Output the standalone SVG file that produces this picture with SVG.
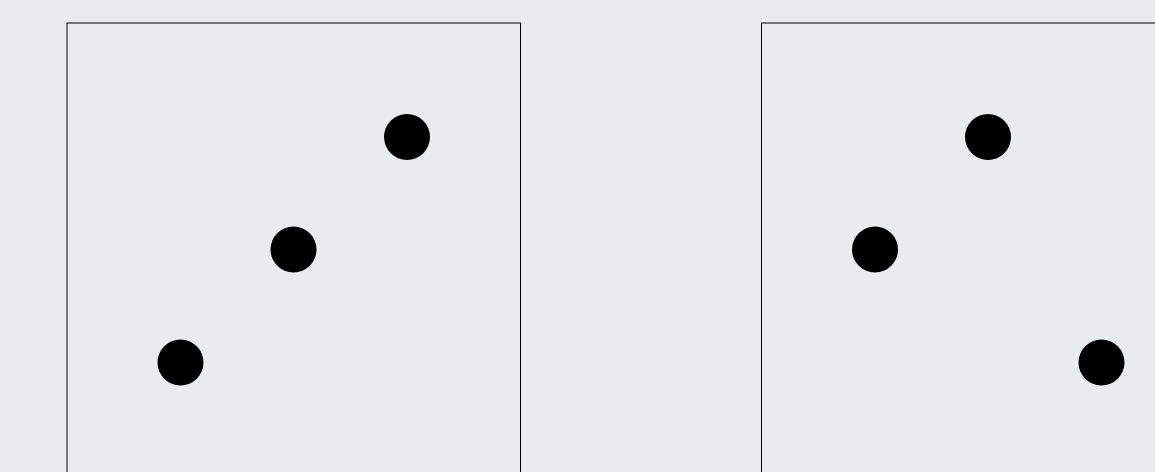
<svg xmlns="http://www.w3.org/2000/svg" width="1155" height="472" viewBox="0 0 1155 472">
<style>
.frame{fill:none;stroke:#000;stroke-width:1}
.dot{fill:#000}
</style>
<rect width="1155" height="472" fill="#e8ecec"/>
<g id="panel-left">
<rect class="frame" x="67" y="23" width="453.5" height="460"/>
<circle class="dot" cx="407" cy="137" r="23"/>
<circle class="dot" cx="293.5" cy="249.5" r="23"/>
<circle class="dot" cx="180.5" cy="362.5" r="23"/>
</g>
<g id="panel-right">
<rect class="frame" x="761.5" y="23" width="460" height="460"/>
<circle class="dot" cx="988" cy="137" r="23"/>
<circle class="dot" cx="875" cy="249.5" r="23"/>
<circle class="dot" cx="1101.5" cy="362.5" r="23"/>
</g>
<g id="connectors"/>
</svg>
